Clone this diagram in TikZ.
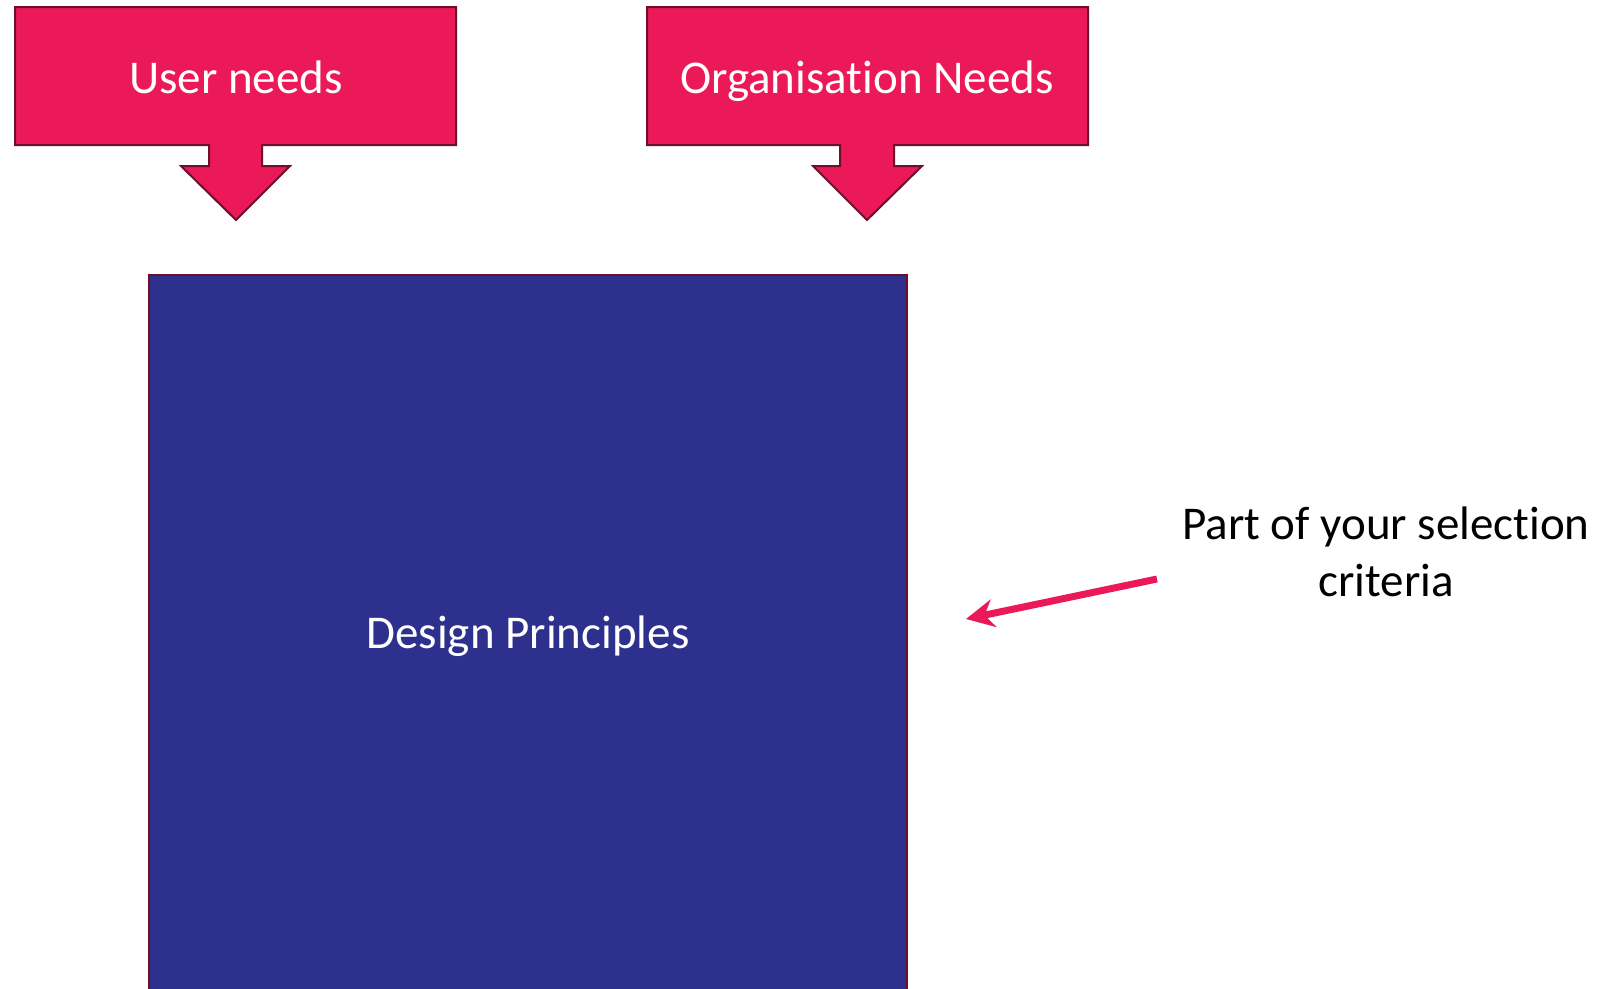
\documentclass[tikz,border=0pt]{standalone}
\usepackage{fontspec}
\setmainfont{Carlito}[Ligatures=NoCommon]
\usetikzlibrary{arrows.meta}
\definecolor{pinkc}{RGB}{236,25,88}
\definecolor{maroon}{RGB}{110,14,45}
\definecolor{navy}{RGB}{45,49,141}
\tikzset{
  callout/.style={fill=pinkc, draw=maroon, line width=2pt, line join=miter},
  whitetext/.style={text=white, font=\fontsize{47}{57}\selectfont, inner sep=0pt, anchor=base},
  blacktext/.style={text=black, font=\fontsize{47}{57}\selectfont, inner sep=0pt, align=center, anchor=base},
  pointer/.style={draw=pinkc, line width=7pt, -{Stealth[length=28pt,width=28pt]}}
}
\begin{document}
\begin{tikzpicture}[x=1pt,y=-1pt]
\useasboundingbox (0,0) rectangle (1624,988);
\clip (0,0) rectangle (1624,988);
\fill[white] (0,0) rectangle (1624,988);
% callout 1
\draw[callout] (15,7) -- (456,7) -- (456,145) -- (262,145) -- (262,166) -- (290,166) -- (236,220) -- (181,166) -- (209,166) -- (209,145) -- (15,145) -- cycle;
\node[whitetext] (user) at (236,93) {User needs};
% callout 2
\draw[callout] (647,7) -- (1088,7) -- (1088,145) -- (894,145) -- (894,166) -- (922,166) -- (867,220) -- (813,166) -- (840,166) -- (840,145) -- (647,145) -- cycle;
\node[whitetext] (org) at (867,93) {Organisat\kern0pt ion Needs};
% blue box
\draw[fill=navy, draw=maroon, line width=2pt] (149,275) rectangle (907,1000);
\node[whitetext] (design) at (528,648) {Design Principles};
% annotation
\node[blacktext] (crit1) at (1386,539) {Part of your selection};
\node[blacktext] (crit2) at (1386,596) {criteria};
\coordinate (tail) at (1157,579);
\coordinate (tip) at (966,619);
\draw[pointer] (tail) -- (tip);
\end{tikzpicture}
\end{document}
